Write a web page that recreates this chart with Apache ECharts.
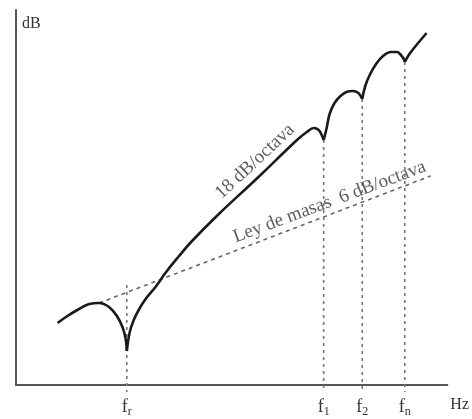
<!DOCTYPE html>
<html>
<head>
<meta charset="utf-8">
<script src="https://cdn.jsdelivr.net/npm/echarts@6/dist/echarts.min.js"></script>
<style>
  html, body { margin: 0; padding: 0; background: #fff; }
  #chart { width: 472px; height: 419px; }
</style>
</head>
<body>
<div id="chart"></div>
<script>
// Transmission loss of a single wall vs. frequency (log scale), schematic.
// x: log-frequency units, y: dB.

// Low-frequency arch ending in the resonance dip at f_r
const lowArch = [
  [10.5, 12.4], [13, 13.8], [15.5, 15], [18.5, 16.2], [21, 16.4],
  [23.5, 15.6], [25.5, 13.8], [27, 11.4], [27.75, 9], [28, 6.8]
];
// Rise from f_r, 18 dB/octave stretch, first hump and dip at f1
const steepRise = [
  [28, 6.8], [28.75, 10.6], [29.75, 13], [31, 15], [32.75, 17.2],
  [35.25, 19.6], [37.75, 22.4], [41, 25.6], [44.25, 28.6], [51, 34],
  [61, 41.4], [71, 49], [73.5, 50.6], [75.25, 51.4], [76.5, 51],
  [77.25, 50], [77.75, 49]
];
// Hump between f1 and f2
const humpTwo = [
  [77.75, 49], [78.5, 51.4], [79.25, 54.2], [80.5, 56.4], [82, 57.8],
  [83.5, 58.6], [85.25, 58.8], [86.5, 58.4], [87.25, 57.6], [87.5, 57.2]
];
// Hump between f2 and fn
const humpThree = [
  [87.5, 57.2], [88.25, 59.8], [89.5, 62.2], [91, 64.2], [92.75, 65.8],
  [94.75, 66.6], [96.25, 66.6], [97.25, 66], [98, 65.2], [98.25, 64.6]
];
// Rise after fn
const tailRise = [
  [98.25, 64.6], [99.25, 66], [101, 67.8], [103.75, 70.4]
];
// Mass law, 6 dB/octave
const massLaw = [[21, 16.4], [104.75, 41.8]];

// Characteristic frequencies and the dip levels where their guides start
const markFreqs = [28, 77.75, 87.5, 98.25];
const markTops = [20, 49, 57.2, 64.6];
const markSubs = ['r', '1', '2', 'n'];
const guideBottom = -1.4;

const curveSegments = [lowArch, steepRise, humpTwo, humpThree, tailRise];

const series = [];
curveSegments.forEach(function (seg) {
  series.push({
    type: 'line',
    data: seg,
    smooth: 0.4,
    showSymbol: false,
    silent: true,
    lineStyle: { color: '#1a1a1a', width: 2.6 },
    z: 5
  });
});

series.push({
  type: 'line',
  data: massLaw,
  showSymbol: false,
  silent: true,
  lineStyle: { color: '#666', width: 1.6, type: [4, 4] },
  z: 3
});

markFreqs.forEach(function (f, i) {
  series.push({
    type: 'line',
    data: [[f, markTops[i]], [f, guideBottom]],
    showSymbol: false,
    silent: true,
    clip: false,
    lineStyle: { color: '#777', width: 1.6, type: [3, 4] },
    z: 2
  });
});

// Slope annotations
series.push({
  type: 'scatter',
  symbolSize: 1,
  silent: true,
  itemStyle: { color: 'rgba(0,0,0,0)' },
  data: [
    { value: [60.4, 44.7], label: { formatter: '18 dB/octava', rotate: 43 } },
    { value: [79.25, 36.6], label: { formatter: 'Ley de masas  6 dB/octava', rotate: 20.5 } }
  ],
  label: {
    show: true,
    position: 'inside',
    color: '#333',
    fontFamily: 'Liberation Serif',
    fontSize: 19
  },
  z: 6
});

const chart = echarts.init(document.getElementById('chart'), null, { renderer: 'canvas' });
chart.setOption({
  animation: false,
  backgroundColor: '#fff',
  grid: { left: 16, right: 20, top: 10, bottom: 34 },
  xAxis: {
    type: 'value',
    min: 0,
    max: 109,
    name: 'Hz',
    nameLocation: 'end',
    nameGap: 3,
    nameTextStyle: {
      color: '#333', fontFamily: 'Liberation Serif', fontSize: 16,
      align: 'left', verticalAlign: 'top', padding: [12, 0, 0, 0]
    },
    axisLine: { lineStyle: { color: '#555', width: 2 } },
    axisTick: { show: false },
    splitLine: { show: false },
    axisLabel: {
      customValues: markFreqs,
      margin: 12,
      formatter: function (v) {
        const i = markFreqs.indexOf(v);
        return '{f|f}{s|' + markSubs[i] + '}';
      },
      rich: {
        f: { fontFamily: 'Liberation Serif', fontSize: 18, color: '#333' },
        s: { fontFamily: 'Liberation Serif', fontSize: 12, color: '#333', padding: [9, 0, 0, 0] }
      }
    }
  },
  yAxis: {
    type: 'value',
    min: 0,
    max: 75,
    name: 'dB',
    nameLocation: 'end',
    nameGap: -14,
    nameTextStyle: {
      color: '#333', fontFamily: 'Liberation Serif', fontSize: 16,
      align: 'left', verticalAlign: 'middle', padding: [0, 0, 0, 6]
    },
    axisLine: { show: true, lineStyle: { color: '#555', width: 2 } },
    axisTick: { show: false },
    axisLabel: { show: false },
    splitLine: { show: false }
  },
  series: series
});
</script>
</body>
</html>
